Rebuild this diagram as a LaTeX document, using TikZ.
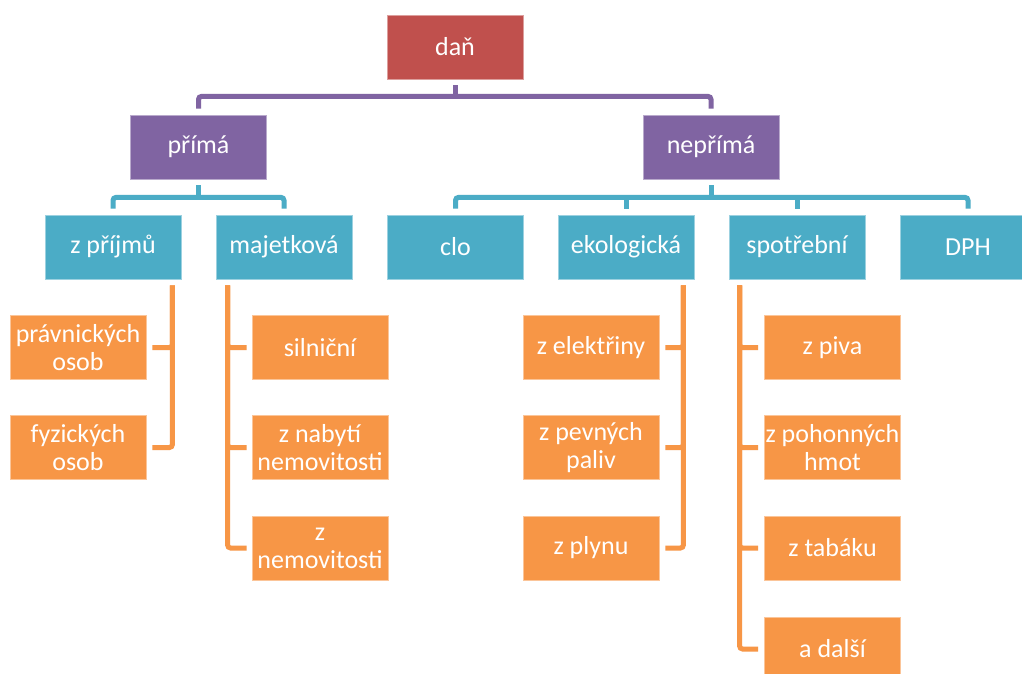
\documentclass[tikz,border=0pt]{standalone}
\usepackage{fontspec}
\setmainfont{Carlito}
\definecolor{cred}{HTML}{C0504D}
\definecolor{cpurple}{HTML}{8064A2}
\definecolor{cteal}{HTML}{4BACC6}
\definecolor{corange}{HTML}{F79646}
\tikzset{
  box/.style={rectangle, minimum width=136pt, minimum height=64pt, inner sep=0pt,
    text=white, align=center, font=\fontsize{26}{28}\selectfont, line width=0.8pt},
  redbox/.style={box, fill=cred, draw=cred!55!white},
  purplebox/.style={box, fill=cpurple, draw=cpurple!55!white},
  tealbox/.style={box, fill=cteal, draw=cteal!55!white},
  orangebox/.style={box, fill=corange, draw=corange!55!white},
  conn/.style={line width=5pt, rounded corners=3pt},
}
\begin{document}
\begin{tikzpicture}[x=1pt,y=-1pt]
\useasboundingbox (0,0) rectangle (1022,673);
\clip (0,0) rectangle (1022,673);
\fill[white] (0,0) rectangle (1022,673);

% nodes
\node[redbox] (dan) at (455,47) {daň};
\node[purplebox] (prima) at (198.5,147) {přímá};
\node[purplebox] (neprima) at (711,147) {nepřímá};

\node[tealbox] (zprijmu) at (113,247) {z příjmů};
\node[tealbox] (majetkova) at (284,247) {majetková};
\node[tealbox] (clo) at (455.5,247) {clo};
\node[tealbox] (ekologicka) at (626,247) {ekologická};
\node[tealbox] (spotrebni) at (797,247) {spotřební};
\node[tealbox] (dph) at (968,247) {DPH};

\node[orangebox] (pravnickych) at (78,347.5) {právnických\\osob};
\node[orangebox] (fyzickych) at (78,447.5) {fyzických\\osob};

\node[orangebox] (silnicni) at (320,347.5) {silniční};
\node[orangebox] (nabyti) at (320,447.5) {z nabytí\\nemovitosti};
\node[orangebox] (znemovitosti) at (320,548) {z\\nemovitosti};

\node[orangebox] (elektriny) at (591,347.5) {z elektřiny};
\node[orangebox] (pevnych) at (591,447.5) {z pevných\\paliv};
\node[orangebox] (plynu) at (591,548) {z plynu};

\node[orangebox] (piva) at (832.5,347.5) {z piva};
\node[orangebox] (pohonnych) at (832.5,447.5) {z pohonných\\hmot};
\node[orangebox] (tabaku) at (832.5,548) {z tabáku};
\node[orangebox] (dalsi) at (832.5,649) {a další};

% purple connectors
\coordinate (dbus) at ([yshift=-17pt]dan.south);
\draw[conn, cpurple] ([yshift=-6pt]dan.south) -- (dbus);
\draw[conn, cpurple] ([yshift=6pt]prima.north) |- (dbus) -| ([yshift=6pt]neprima.north);

% teal connectors
\coordinate (pbus) at ([yshift=-18pt]prima.south);
\draw[conn, cteal] ([yshift=-6pt]prima.south) -- (pbus);
\draw[conn, cteal] ([yshift=6pt]zprijmu.north) |- (pbus) -| ([yshift=6pt]majetkova.north);

\coordinate (nbus) at ([yshift=-18pt]neprima.south);
\draw[conn, cteal] ([yshift=-6pt]neprima.south) -- (nbus);
\draw[conn, cteal] ([yshift=6pt]clo.north) |- (nbus) -| ([yshift=6pt]dph.north);
\draw[conn, cteal] ([yshift=6pt]ekologicka.north) -- (ekologicka.north |- nbus);
\draw[conn, cteal] ([yshift=6pt]spotrebni.north) -- (spotrebni.north |- nbus);

% orange connectors
\coordinate (zp) at ([xshift=-9pt,yshift=-6pt]zprijmu.south east);
\draw[conn, corange] ([xshift=6pt]pravnickych.east) -| (zp);
\draw[conn, corange] ([xshift=6pt]fyzickych.east) -| (zp);

\coordinate (mj) at ([xshift=12pt,yshift=-6pt]majetkova.south west);
\draw[conn, corange] ([xshift=-5pt]silnicni.west) -| (mj);
\draw[conn, corange] ([xshift=-5pt]nabyti.west) -| (mj);
\draw[conn, corange] ([xshift=-5pt]znemovitosti.west) -| (mj);

\coordinate (ek) at ([xshift=-11pt,yshift=-6pt]ekologicka.south east);
\draw[conn, corange] ([xshift=6pt]elektriny.east) -| (ek);
\draw[conn, corange] ([xshift=6pt]pevnych.east) -| (ek);
\draw[conn, corange] ([xshift=6pt]plynu.east) -| (ek);

\coordinate (sp) at ([xshift=11pt,yshift=-6pt]spotrebni.south west);
\draw[conn, corange] ([xshift=-6pt]piva.west) -| (sp);
\draw[conn, corange] ([xshift=-6pt]pohonnych.west) -| (sp);
\draw[conn, corange] ([xshift=-6pt]tabaku.west) -| (sp);
\draw[conn, corange] ([xshift=-6pt]dalsi.west) -| (sp);
\end{tikzpicture}
\end{document}
